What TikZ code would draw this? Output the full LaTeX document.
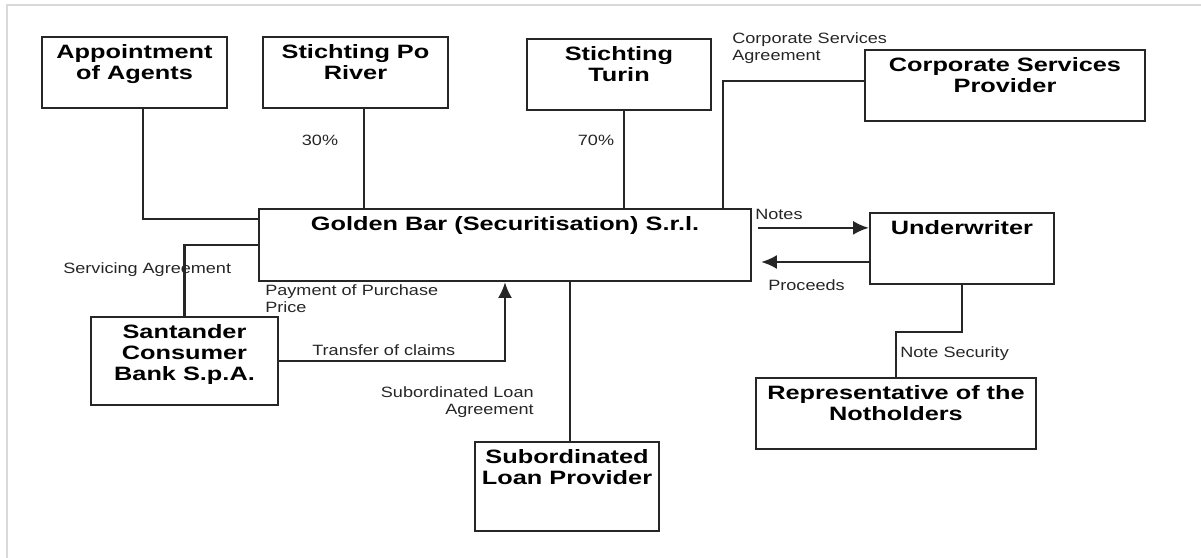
\documentclass[tikz,border=0pt]{standalone}
\usepackage{fontspec}
\setmainfont{Liberation Sans}
\newfontfamily\boxfont[FakeStretch=1.31]{Liberation Sans}
\newfontfamily\notefont[FakeStretch=1.21]{Liberation Sans}
\usetikzlibrary{arrows.meta,calc}

\begin{document}
\begin{tikzpicture}[x=0.02cm,y=-0.02cm,
    party/.style={draw=black!85, line width=1.3pt, minimum height=1.42cm, inner sep=0pt},
    title/.style={anchor=north, align=center, inner sep=4.5pt, font=\boxfont\bfseries\fontsize{11}{12.1}\selectfont},
    note/.style={inner sep=0pt, text=black!85, font=\notefont\fontsize{8.5}{9.6}\selectfont},
    link/.style={draw=black!85, line width=1.3pt},
    flow/.style={link, -{Latex[length=9pt,width=8pt]}}]
    \useasboundingbox (0,0) rectangle (1201,558);
    \draw[black!15, line width=0.9pt] (7,558) -- (7,5) -- (1201,5);

    \node[party, minimum width=3.70cm] (agents) at (134.5,72.5) {};
    \node[party, minimum width=3.70cm] (poriver) at (355.5,72.5) {};
    \node[party, minimum width=3.68cm] (turin) at (619,74.5) {};
    \node[party, minimum width=5.60cm] (csp) at (1005,85.5) {};
    \node[party, minimum width=9.84cm, minimum height=1.44cm] (golden) at (505,245) {};
    \node[party, minimum width=3.68cm] (underwriter) at (962,248.5) {};
    \node[party, minimum width=3.74cm, minimum height=1.76cm] (santander) at (184.5,361) {};
    \node[party, minimum width=5.60cm] (rotn) at (896,413.5) {};
    \node[party, minimum width=3.68cm, minimum height=1.78cm] (slp) at (567,486.5) {};

    \node[title] (agentsT) at (agents.north) {Appointment\\of Agents};
    \node[title] (poriverT) at (poriver.north) {Stichting Po\\River};
    \node[title] (turinT) at (turin.north) {Stichting\\Turin};
    \node[title] (cspT) at (csp.north) {Corporate Services\\Provider};
    \node[title] (goldenT) at (golden.north) {Golden Bar (Securitisation) S.r.l.};
    \node[title] (underwriterT) at (underwriter.north) {Underwriter};
    \node[title] (santanderT) at (santander.north) {Santander\\Consumer\\Bank S.p.A.};
    \node[title] (rotnT) at (rotn.north) {Representative of the\\Notholders};
    \node[title] (slpT) at (slp.north) {Subordinated\\Loan Provider};

    \coordinate (agA) at ($(golden.north west)+(0,11)$);
    \coordinate (poA) at ($(poriver.south)+(8.5,0)$);
    \coordinate (tuA) at ($(turin.south)+(5,0)$);
    \coordinate (csA) at ($(golden.north east)+(-29,0)$);
    \coordinate (nA) at ($(golden.north east)+(6,20)$);
    \coordinate (pA) at ($(underwriter.west)+(0,13.5)$);
    \coordinate (slA) at ($(slp.north)+(3,0)$);

    \draw[link] ($(agents.south)+(8.5,0)$) |- (agA);
    \draw[link] (poA) -- (poA |- golden.north);
    \draw[link] (tuA) -- (tuA |- golden.north);
    \draw[link] ($(csp.west)+(0,-4.5)$) -| (csA);
    \draw[flow] (nA) -- (nA -| underwriter.west);
    \draw[flow] (pA) -- ($(pA -| golden.east)+(9,0)$);
    \draw[link] (golden.west) -| (santander.north);
    \draw[flow] (santander.east) -| (golden.south);
    \draw[link] (slA) -- (slA |- golden.south);
    \draw[link] (underwriter.south) -- ++(0,47) -| (rotn.north);

    \node[note] (l30) at (320,140) {30\%};
    \node[note] (l70) at (596,140) {70\%};
    \node[note, anchor=west, align=left] (lcsa) at (732,48.5) {Corporate Services\\Agreement};
    \node[note, anchor=west] (lnotes) at (755,214) {Notes};
    \node[note, anchor=west] (lproceeds) at (768,285) {Proceeds};
    \node[note, anchor=west] (lservicing) at (63,270) {Servicing Agreement};
    \node[note, anchor=west, align=left] (lpayment) at (265,299) {Payment of Purchase\\Price};
    \node[note, anchor=west] (ltransfer) at (312,350) {Transfer of claims};
    \node[note, anchor=east, align=right] (lsubloan) at (534,402) {Subordinated Loan\\Agreement};
    \node[note, anchor=west] (lnotesec) at (900,354) {Note Security};
\end{tikzpicture}
\end{document}
